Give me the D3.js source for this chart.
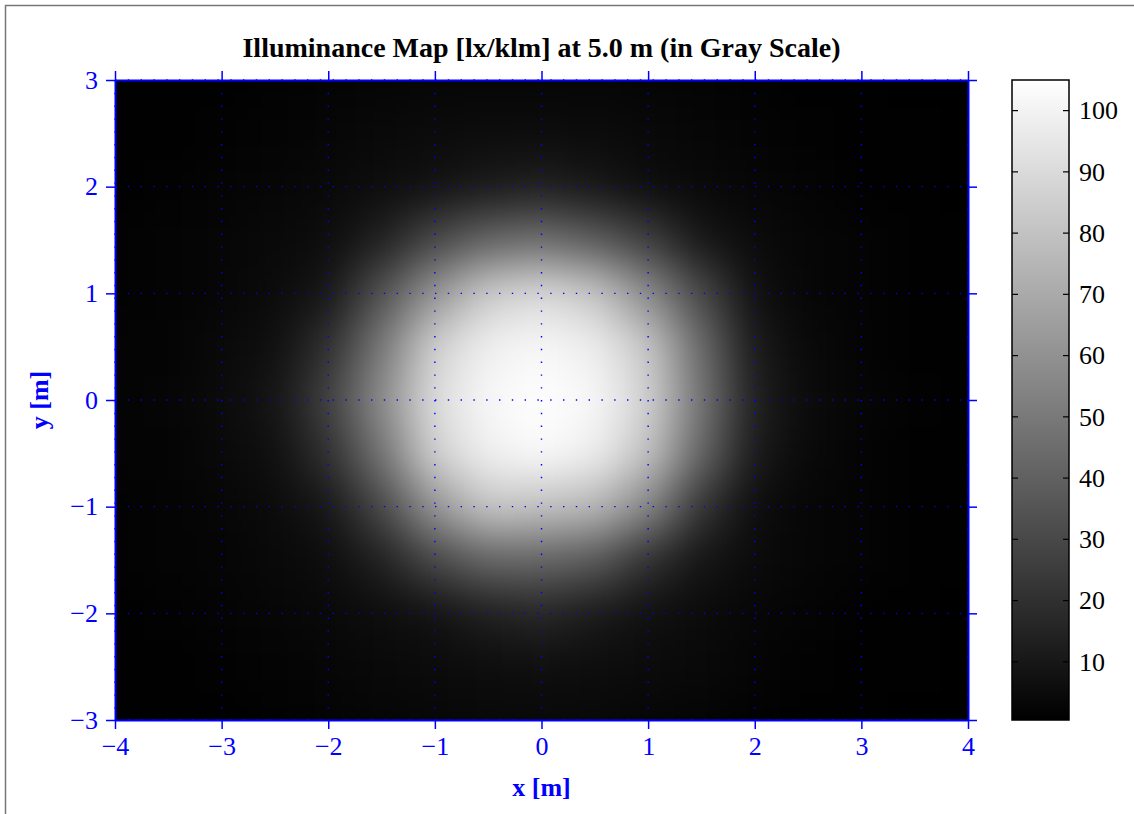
<!DOCTYPE html>
<meta charset="utf-8">
<style>
body { margin: 0; background: #fff; }
svg { font-family: "Liberation Serif", "Times New Roman", serif; }
.axis path, .axis line { stroke: #0000ff; }
.axis text { fill: #0000ff; font-size: 26px; font-family: "Liberation Serif", "Times New Roman", serif; }
.grid line { stroke: #0000ff; stroke-width: 1.4; stroke-dasharray: 1.4 11.4; }
.cbar text { fill: #000; font-size: 26px; }
.cbar line { stroke: #000; stroke-width: 1.2; }
.title { font-size: 28px; font-weight: bold; fill: #000; }
.label { font-size: 26px; font-weight: bold; fill: #0000ff; }
</style>
<body>
<script src="https://cdn.jsdelivr.net/npm/d3@7"></script>
<script>

// grid nodes (m)
var xs = [-4, -3.5, -3, -2.5, -2, -1.5, -1, -0.5, 0, 0.5, 1, 1.5, 2, 2.5, 3, 3.5, 4];
var ys = [3, 2.5, 2, 1.5, 1, 0.5, 0, -0.5, -1, -1.5, -2, -2.5, -3];

// illuminance [lx/klm], one row per ys value
var E = [
  [1,   1,   1,   1.5, 2,  2.5, 3,  3,   3,   3,   2.5, 2,  1.5, 1,   1, 0.5, 0.5],
  [1,   1,   1.5, 2,   3,  4,   5,  5.5, 5.5, 5,   4,   3,  2,   1.5, 1, 1,   0.5],
  [1,   1.5, 2,   3,   4,  6,   8,  11,  13,  10,  6,   4,  3,   2,   1, 1,   0.5],
  [1.5, 2,   3,   4,   6,  14,  30, 42,  46,  38,  26,  10, 5,   3,   2, 1,   1],
  [1.5, 2,   3,   5,   10, 34,  62, 84,  90,  82,  58,  30, 7,   3,   2, 1,   1],
  [2,   2,   4,   7,   20, 50,  86, 99,  102, 98,  82,  44, 11,  4,   2, 1,   1],
  [2,   2.5, 5,   9,   27, 58,  91, 102, 105, 102, 86,  48, 13,  5,   3, 1.5, 1],
  [2,   2,   4,   7,   20, 48,  86, 99,  103, 98,  80,  42, 11,  4,   2, 1,   1],
  [1.5, 2,   3,   5,   10, 30,  62, 82,  80,  76,  56,  22, 6,   3,   2, 1,   1],
  [1.5, 2,   2.5, 4,   6,  14,  30, 42,  42,  37,  20,  9,  5,   3,   2, 1,   1],
  [1,   1.5, 2,   3,   4,  6,   8,  13,  16,  11,  7,   5,  3,   2,   1, 1,   0.5],
  [1,   1,   1.5, 2,   3,  4,   5,  6,   6.5, 6,   5,   4,  2.5, 1.5, 1, 1,   0.5],
  [1,   1,   1,   1.5, 2,  3,   3.5, 4,  4,   4,   3,   2.5, 1.5, 1,  1, 0.5, 0.5]
];

var xTicks = [-4, -3, -2, -1, 0, 1, 2, 3, 4];
var yTicks = [-3, -2, -1, 0, 1, 2, 3];
var cbTicks = [10, 20, 30, 40, 50, 60, 70, 80, 90, 100];
var eMin = 0.5, eMax = 105;

var width = 1134, height = 814,
    pL = 115, pR = 968, pT = 80, pB = 720,
    cbLeft = 1012, cbWidth = 57, step = 0.5;

var x = d3.scaleLinear().domain([-4, 4]).range([pL, pR]);
var y = d3.scaleLinear().domain([-3, 3]).range([pB, pT]);
var color = d3.scaleLinear().domain([eMin, eMax]).range(["#000", "#fff"]).clamp(true);
var cb = d3.scaleLinear().domain([eMin, eMax]).range([pB, pT]);
var fmt = d3.format("d");

var svg = d3.select("body").append("svg")
    .attr("width", width)
    .attr("height", height);

// figure frame
svg.append("path")
    .attr("d", "M5.5," + height + "V5.5H" + width)
    .attr("fill", "none")
    .attr("stroke", "#777")
    .attr("stroke-width", 1.5);

var defs = svg.append("defs");
defs.append("clipPath").attr("id", "plot-clip")
  .append("rect")
    .attr("x", pL).attr("y", pT)
    .attr("width", pR - pL).attr("height", pB - pT);
defs.append("filter").attr("id", "soft")
    .attr("color-interpolation-filters", "sRGB")
    .attr("x", "-5%").attr("y", "-5%").attr("width", "110%").attr("height", "110%")
  .append("feGaussianBlur").attr("stdDeviation", 22);

var grad = defs.append("linearGradient").attr("id", "cb-grad")
    .attr("x1", 0).attr("y1", 1).attr("x2", 0).attr("y2", 0);
grad.append("stop").attr("offset", "0%").attr("stop-color", color(eMin));
grad.append("stop").attr("offset", "100%").attr("stop-color", color(eMax));

// map
var map = svg.append("g").attr("clip-path", "url(#plot-clip)");
map.append("rect")
    .attr("x", pL).attr("y", pT)
    .attr("width", pR - pL).attr("height", pB - pT)
    .attr("fill", "#000");

var cells = [];
ys.forEach(function(yv, i) {
  xs.forEach(function(xv, j) {
    cells.push({x: xv, y: yv, e: E[i][j]});
  });
});

map.append("g").attr("filter", "url(#soft)")
  .selectAll("rect")
  .data(cells).enter()
  .append("rect")
    .attr("x", function(d) { return x(d.x - step / 2); })
    .attr("y", function(d) { return y(d.y + step / 2); })
    .attr("width", x(step) - x(0) + 0.5)
    .attr("height", y(0) - y(step) + 0.5)
    .attr("fill", function(d) { return color(d.e); });

// dotted grid
var grid = svg.append("g").attr("class", "grid");
grid.selectAll(".gx")
  .data(xTicks).enter()
  .append("line")
    .attr("x1", x).attr("x2", x)
    .attr("y1", pT).attr("y2", pB);
grid.selectAll(".gy")
  .data(yTicks).enter()
  .append("line")
    .attr("y1", y).attr("y2", y)
    .attr("x1", pL).attr("x2", pR);

// axes on all four sides, ticks outward
function styleAxis(g) {
  g.attr("font-family", null).attr("font-size", null);
  g.select(".domain").attr("stroke-width", 2);
  g.selectAll(".tick line").attr("stroke-width", 1.5);
}
svg.append("g").attr("class", "axis")
    .attr("transform", "translate(0," + pB + ")")
    .call(d3.axisBottom(x).tickValues(xTicks).tickFormat(fmt).tickSize(9).tickSizeOuter(0).tickPadding(8))
    .call(styleAxis);
svg.append("g").attr("class", "axis")
    .attr("transform", "translate(0," + pT + ")")
    .call(d3.axisTop(x).tickValues(xTicks).tickSize(9).tickSizeOuter(0).tickFormat(""))
    .call(styleAxis);
svg.append("g").attr("class", "axis")
    .attr("transform", "translate(" + pL + ",0)")
    .call(d3.axisLeft(y).tickValues(yTicks).tickFormat(fmt).tickSize(9).tickSizeOuter(0).tickPadding(8))
    .call(styleAxis);
svg.append("g").attr("class", "axis")
    .attr("transform", "translate(" + pR + ",0)")
    .call(d3.axisRight(y).tickValues(yTicks).tickSize(9).tickSizeOuter(0).tickFormat(""))
    .call(styleAxis);

// colour bar
var bar = svg.append("g").attr("class", "cbar");
bar.append("rect")
    .attr("x", cbLeft).attr("y", pT)
    .attr("width", cbWidth).attr("height", pB - pT)
    .attr("fill", "url(#cb-grad)")
    .attr("stroke", "#000").attr("stroke-width", 1.5);
bar.selectAll(".tl")
  .data(cbTicks).enter()
  .append("line")
    .attr("x1", cbLeft).attr("x2", cbLeft + 6)
    .attr("y1", cb).attr("y2", cb);
bar.selectAll(".tr")
  .data(cbTicks).enter()
  .append("line")
    .attr("x1", cbLeft + cbWidth - 6).attr("x2", cbLeft + cbWidth)
    .attr("y1", cb).attr("y2", cb);
bar.selectAll("text")
  .data(cbTicks).enter()
  .append("text")
    .attr("x", cbLeft + cbWidth + 10)
    .attr("y", cb)
    .attr("dy", "0.34em")
    .text(function(d) { return d; });

// titles
svg.append("text").attr("class", "title")
    .attr("x", (pL + pR) / 2).attr("y", 57)
    .attr("text-anchor", "middle")
    .text("Illuminance Map [lx/klm] at 5.0 m (in Gray Scale)");
svg.append("text").attr("class", "label")
    .attr("x", (pL + pR) / 2).attr("y", 796)
    .attr("text-anchor", "middle")
    .text("x [m]");
svg.append("text").attr("class", "label")
    .attr("transform", "translate(48," + (pT + pB) / 2 + ") rotate(-90)")
    .attr("text-anchor", "middle")
    .text("y [m]");
</script>
